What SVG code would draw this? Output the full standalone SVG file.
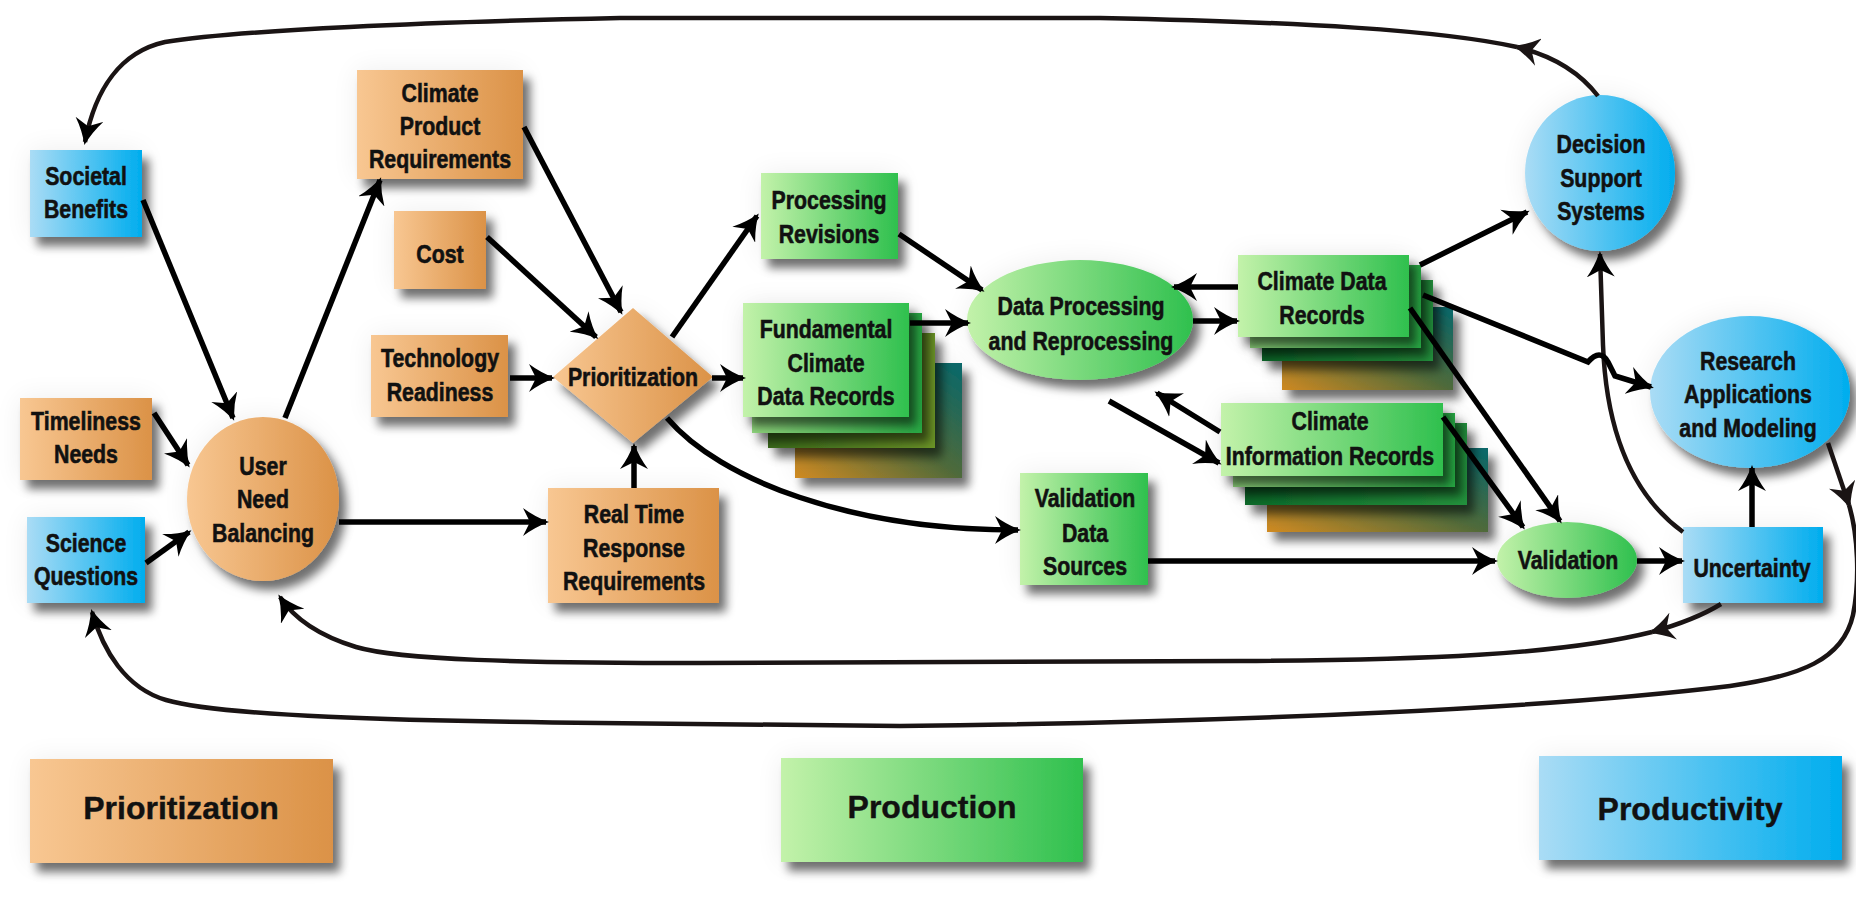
<svg xmlns="http://www.w3.org/2000/svg" width="1856" height="901" viewBox="0 0 1856 901">
<defs>
<style>
.t{font-family:"Liberation Sans",Arial,sans-serif;font-weight:bold;font-size:26px;text-anchor:middle;fill:#111;stroke:#111;stroke-width:0.6}
.lg{font-family:"Liberation Sans",Arial,sans-serif;font-weight:bold;font-size:32px;text-anchor:middle;fill:#111;stroke:#111;stroke-width:0.4}
.c{fill:none;stroke:#000;stroke-width:5.5;marker-end:url(#ah)}
.l{fill:none;stroke:#1a1414;stroke-width:4.5}
.o{fill:url(#gO)}
.g{fill:url(#gG)}
.b{fill:url(#gB)}
</style>
<linearGradient id="gO" x1="0" y1="0" x2="1" y2="0"><stop offset="0" stop-color="#f8c792"/><stop offset="1" stop-color="#db9247"/></linearGradient>
<linearGradient id="gG" x1="0" y1="0" x2="1" y2="0"><stop offset="0" stop-color="#c3f2aa"/><stop offset="1" stop-color="#2fc04e"/></linearGradient>
<linearGradient id="gG2" x1="0" y1="0" x2="1" y2="0"><stop offset="0" stop-color="#8fd47c"/><stop offset="1" stop-color="#27a843"/></linearGradient>
<linearGradient id="gOl" x1="0" y1="0" x2="1" y2="0"><stop offset="0" stop-color="#3b6c1c"/><stop offset="1" stop-color="#6b9427"/></linearGradient>
<linearGradient id="gDk" x1="0" y1="0" x2="1" y2="0"><stop offset="0" stop-color="#0d6a2a"/><stop offset="1" stop-color="#24913c"/></linearGradient>
<linearGradient id="gOT" x1="0" y1="1" x2="1" y2="0"><stop offset="0" stop-color="#d08a22"/><stop offset="0.5" stop-color="#4f6a3a"/><stop offset="1" stop-color="#06676b"/></linearGradient>
<linearGradient id="gB" x1="0" y1="0" x2="1" y2="0"><stop offset="0" stop-color="#aadcf5"/><stop offset="1" stop-color="#00adee"/></linearGradient>
<filter id="sh" x="-40%" y="-40%" width="190%" height="190%">
<feGaussianBlur in="SourceAlpha" stdDeviation="14" result="g"/>
<feComponentTransfer in="g" result="g2"><feFuncA type="linear" slope="0.07"/></feComponentTransfer>
<feGaussianBlur in="SourceAlpha" stdDeviation="5" result="b"/>
<feOffset in="b" dx="7" dy="9" result="o"/>
<feComponentTransfer in="o" result="o2"><feFuncA type="linear" slope="0.55"/></feComponentTransfer>
<feMerge><feMergeNode in="g2"/><feMergeNode in="o2"/><feMergeNode in="SourceGraphic"/></feMerge>
</filter>
<marker id="ah" viewBox="0 0 26 28" refX="23" refY="14" markerWidth="26" markerHeight="28" markerUnits="userSpaceOnUse" orient="auto">
<path d="M0,0 Q12,9 26,14 Q12,19 0,28 L7,14 z" fill="#000"/>
</marker>
<marker id="am" viewBox="0 0 26 28" refX="22" refY="14" markerWidth="26" markerHeight="28" markerUnits="userSpaceOnUse" orient="auto">
<path d="M0,0 Q12,9 26,14 Q12,19 0,28 L7,14 z" fill="#1a1414"/>
</marker>
</defs>
<rect width="1856" height="901" fill="#fff"/>

<g id="legend-prioritization"><rect class="o" filter="url(#sh)" x="30" y="759" width="303" height="104"/>
<text class="lg" x="181" y="819">Prioritization</text></g>
<g id="legend-production"><rect class="g" filter="url(#sh)" x="781" y="758" width="302" height="104"/>
<text class="lg" x="932" y="818">Production</text></g>
<g id="legend-productivity"><rect class="b" filter="url(#sh)" x="1539" y="756" width="303" height="104"/>
<text class="lg" x="1690" y="820">Productivity</text></g>

<g id="societal-benefits"><rect class="b" filter="url(#sh)" x="30" y="150" width="112" height="87"/>
<text class="t" transform="translate(86 0) scale(0.82 1)"><tspan x="0" y="185">Societal</tspan><tspan x="0" y="218">Benefits</tspan></text></g>

<g id="climate-product-requirements"><rect class="o" filter="url(#sh)" x="357" y="70" width="166" height="109"/>
<text class="t" transform="translate(440 0) scale(0.82 1)"><tspan x="0" y="102">Climate</tspan><tspan x="0" y="135">Product</tspan><tspan x="0" y="168">Requirements</tspan></text></g>

<g id="cost"><rect class="o" filter="url(#sh)" x="394" y="211" width="92" height="78"/>
<text class="t" transform="translate(440 0) scale(0.82 1)"><tspan x="0" y="263">Cost</tspan></text></g>

<g id="technology-readiness"><rect class="o" filter="url(#sh)" x="371" y="335" width="137" height="82"/>
<text class="t" transform="translate(440 0) scale(0.82 1)"><tspan x="0" y="367">Technology</tspan><tspan x="0" y="401">Readiness</tspan></text></g>

<g id="timeliness-needs"><rect class="o" filter="url(#sh)" x="20" y="398" width="132" height="82"/>
<text class="t" transform="translate(86 0) scale(0.82 1)"><tspan x="0" y="430">Timeliness</tspan><tspan x="0" y="463">Needs</tspan></text></g>

<g id="science-questions"><rect class="b" filter="url(#sh)" x="27" y="517" width="118" height="86"/>
<text class="t" transform="translate(86 0) scale(0.82 1)"><tspan x="0" y="552">Science</tspan><tspan x="0" y="585">Questions</tspan></text></g>

<g id="user-need-balancing"><ellipse class="o" filter="url(#sh)" cx="263" cy="499" rx="76" ry="82"/>
<text class="t" transform="translate(263 0) scale(0.82 1)"><tspan x="0" y="475">User</tspan><tspan x="0" y="508">Need</tspan><tspan x="0" y="542">Balancing</tspan></text></g>

<g id="prioritization"><polygon class="o" filter="url(#sh)" points="633,308 713,377 633,443 553,377"/>
<text class="t" transform="translate(633 0) scale(0.82 1)"><tspan x="0" y="386">Prioritization</tspan></text></g>

<g id="real-time-response-requirements"><rect class="o" filter="url(#sh)" x="548" y="488" width="171" height="115"/>
<text class="t" transform="translate(634 0) scale(0.82 1)"><tspan x="0" y="523">Real Time</tspan><tspan x="0" y="557">Response</tspan><tspan x="0" y="590">Requirements</tspan></text></g>

<g id="processing-revisions"><rect class="g" filter="url(#sh)" x="761" y="173" width="137" height="86"/>
<text class="t" transform="translate(829 0) scale(0.82 1)"><tspan x="0" y="209">Processing</tspan><tspan x="0" y="243">Revisions</tspan></text></g>

<g id="fundamental-climate-data-records">
<rect fill="url(#gOT)" filter="url(#sh)" x="795" y="363" width="167" height="115"/>
<rect fill="url(#gOl)" filter="url(#sh)" x="768" y="333" width="167" height="115"/>
<rect fill="url(#gG2)" filter="url(#sh)" x="752" y="313" width="170" height="120"/>
<rect class="g" filter="url(#sh)" x="743" y="303" width="166" height="114"/>
<text class="t" transform="translate(826 0) scale(0.82 1)"><tspan x="0" y="338">Fundamental</tspan><tspan x="0" y="372">Climate</tspan><tspan x="0" y="405">Data Records</tspan></text></g>

<g id="data-processing"><ellipse class="g" filter="url(#sh)" cx="1080" cy="320" rx="113" ry="60"/>
<text class="t" transform="translate(1081 0) scale(0.82 1)"><tspan x="0" y="315">Data Processing</tspan><tspan x="0" y="350">and Reprocessing</tspan></text></g>

<g id="climate-data-records">
<rect fill="url(#gOT)" filter="url(#sh)" x="1282" y="307" width="171" height="83"/>
<rect fill="url(#gDk)" filter="url(#sh)" x="1262" y="280" width="171" height="81"/>
<rect fill="url(#gG2)" filter="url(#sh)" x="1250" y="265" width="171" height="83"/>
<rect class="g" filter="url(#sh)" x="1238" y="255" width="171" height="82"/>
<text class="t" transform="translate(1322 0) scale(0.82 1)"><tspan x="0" y="290">Climate Data</tspan><tspan x="0" y="324">Records</tspan></text></g>

<g id="climate-information-records">
<rect fill="url(#gOT)" filter="url(#sh)" x="1267" y="448" width="221" height="84"/>
<rect fill="url(#gDk)" filter="url(#sh)" x="1245" y="423" width="222" height="82"/>
<rect fill="url(#gG2)" filter="url(#sh)" x="1233" y="413" width="222" height="74"/>
<rect class="g" filter="url(#sh)" x="1221" y="403" width="222" height="73"/>
<text class="t" transform="translate(1330 0) scale(0.82 1)"><tspan x="0" y="430">Climate</tspan><tspan x="0" y="465">Information Records</tspan></text></g>

<g id="validation-data-sources"><rect class="g" filter="url(#sh)" x="1020" y="473" width="128" height="112"/>
<text class="t" transform="translate(1085 0) scale(0.82 1)"><tspan x="0" y="507">Validation</tspan><tspan x="0" y="542">Data</tspan><tspan x="0" y="575">Sources</tspan></text></g>

<g id="decision-support-systems"><ellipse class="b" filter="url(#sh)" cx="1600" cy="173" rx="75" ry="78"/>
<text class="t" transform="translate(1601 0) scale(0.82 1)"><tspan x="0" y="153">Decision</tspan><tspan x="0" y="187">Support</tspan><tspan x="0" y="220">Systems</tspan></text></g>

<g id="research-applications-modeling"><ellipse class="b" filter="url(#sh)" cx="1750" cy="392" rx="100" ry="76"/>
<text class="t" transform="translate(1748 0) scale(0.82 1)"><tspan x="0" y="370">Research</tspan><tspan x="0" y="403">Applications</tspan><tspan x="0" y="437">and Modeling</tspan></text></g>

<g id="validation"><ellipse class="g" filter="url(#sh)" cx="1567" cy="560" rx="70" ry="38"/>
<text class="t" transform="translate(1568 0) scale(0.82 1)"><tspan x="0" y="569">Validation</tspan></text></g>

<g id="uncertainty"><rect class="b" filter="url(#sh)" x="1683" y="527" width="140" height="76"/>
<text class="t" transform="translate(1752 0) scale(0.82 1)"><tspan x="0" y="577">Uncertainty</tspan></text></g>

<g id="connectors">
<path class="l" marker-end="url(#am)" d="M1598,96 C1578,70 1550,55 1517,47"/>
<path class="l" marker-end="url(#ah)" d="M1517,47 C1440,30 1300,22 1100,18 L620,18 C430,22 240,30 165,42 C120,52 95,90 85,142"/>
<path class="c" d="M143,200 L233,418"/>
<path class="c" d="M154,413 L188,465"/>
<path class="c" d="M146,563 L189,532"/>
<path class="c" d="M285,418 L380,180"/>
<path class="c" d="M339,522 L546,522"/>
<path class="c" d="M524,127 L621,312"/>
<path class="c" d="M487,237 L596,337"/>
<path class="c" d="M510,378 L552,378"/>
<path class="c" d="M634,488 L634,446"/>
<path class="c" d="M672,337 L757,216"/>
<path class="c" d="M712,378 L743,378"/>
<path class="c" d="M667,418 C720,480 850,530 1018,530"/>
<path class="c" d="M899,234 L982,290"/>
<path class="c" d="M910,323 L968,323"/>
<path class="c" d="M1238,287 L1174,287"/>
<path class="c" d="M1193,321 L1237,321"/>
<path class="c" d="M1109,401 L1219,463"/>
<path class="c" d="M1220,432 L1157,393"/>
<path class="c" d="M1420,265 L1527,212"/>
<path class="l" marker-end="url(#ah)" d="M1683,532 C1628,492 1606,425 1603,345 L1600,254"/>
<path class="c" d="M1423,295 L1588,362 Q1600,348 1608,362 L1615,376 L1651,387"/>
<path class="c" d="M1410,308 L1560,521"/>
<path class="c" d="M1443,417 L1523,527"/>
<path class="c" d="M1148,561 L1495,561"/>
<path class="c" d="M1637,561 L1682,561"/>
<path class="c" d="M1752,527 L1752,468"/>
<path class="l" marker-end="url(#am)" d="M1721,604 Q1695,620 1652,632"/>
<path class="l" marker-end="url(#ah)" d="M1652,632 C1560,655 1420,660 1240,661 L700,663 C520,663 400,660 356,647 C320,636 295,620 280,597"/>
<path class="l" marker-end="url(#am)" d="M1828,443 L1849,505"/>
<path class="l" marker-end="url(#ah)" d="M1849,505 C1858,535 1860,580 1853,615 C1843,660 1800,676 1730,686 C1550,708 1250,722 900,726 L600,723 C400,721 220,716 166,700 C125,688 103,650 92,612"/>
</g>
</svg>
